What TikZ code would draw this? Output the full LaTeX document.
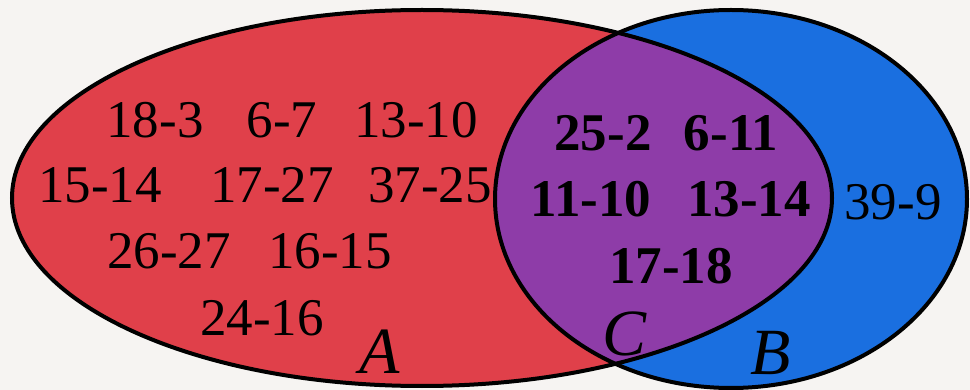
\documentclass[tikz,border=0pt]{standalone}
\usepackage{fontspec}
\setmainfont{Liberation Serif}
\definecolor{bgc}{HTML}{F6F4F2}
\definecolor{redA}{HTML}{E0404A}
\definecolor{blueB}{HTML}{1A6FE0}
\definecolor{purpC}{HTML}{8E3CA8}
\tikzset{
  num/.style={font=\fontsize{53}{60}\selectfont, inner sep=0pt},
  bnum/.style={font=\fontsize{53}{60}\selectfont\bfseries, inner sep=0pt},
  setlbl/.style={font=\fontsize{66}{72}\selectfont\itshape, inner sep=0pt},
  outline/.style={draw=black, line width=4pt}
}
\begin{document}
\begin{tikzpicture}[x=1pt,y=-1pt]
\fill[bgc] (0,0) rectangle (970,390);
\useasboundingbox (0,0) rectangle (970,390);
\fill[redA] (422,198) ellipse [x radius=410, y radius=188];
\fill[blueB] (731,199) ellipse [x radius=236, y radius=189];
\begin{scope}
  \clip (422,198) ellipse [x radius=410, y radius=188];
  \fill[purpC] (731,199) ellipse [x radius=236, y radius=189];
\end{scope}
\draw[outline] (422,198) ellipse [x radius=410, y radius=188];
\draw[outline] (731,199) ellipse [x radius=236, y radius=189];
% set A
\node[num] (a1) at (155,120) {18-3};
\node[num] (a2) at (282,120) {6-7};
\node[num] (a3) at (416,120) {13-10};
\node[num] (a4) at (100,185) {15-14};
\node[num] (a5) at (272,185) {17-27};
\node[num] (a6) at (430,185) {37-25};
\node[num] (a7) at (169,251) {26-27};
\node[num] (a8) at (330,251) {16-15};
\node[num] (a9) at (262,318) {24-16};
\node[setlbl] (lA) at (380,352) {A};
% intersection C
\node[bnum] (c1) at (603,133) {25-2};
\node[bnum] (c2) at (731,133) {6-11};
\node[bnum] (c3) at (591,199) {11-10};
\node[bnum] (c4) at (749,199) {13-14};
\node[bnum] (c5) at (671,266) {17-18};
\node[setlbl] (lC) at (625,334) {C};
% set B
\node[num] (b1) at (893,202) {39-9};
\node[setlbl] (lB) at (771,353) {B};
\end{tikzpicture}
\end{document}
